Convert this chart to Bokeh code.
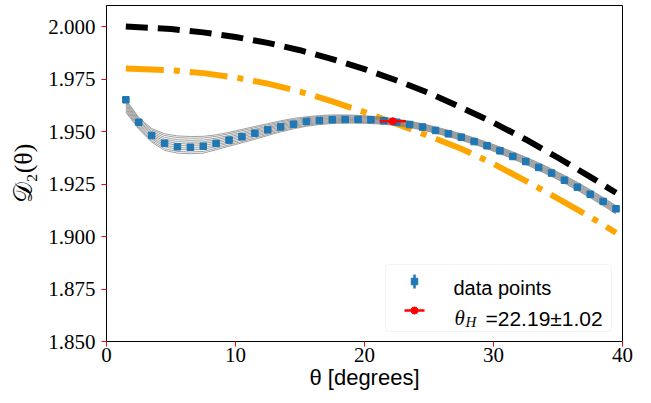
from bokeh.plotting import figure
from bokeh.models import Range1d, FixedTicker, NumeralTickFormatter, Label, BoxAnnotation
from bokeh.embed import file_html
from bokeh.resources import INLINE

# sampled angles (degrees) and measured D2 values
theta = [1.5, 2.5, 3.5, 4.5, 5.5, 6.5, 7.5, 8.5, 9.5, 10.5, 11.5, 12.5, 13.5,
         14.5, 15.5, 16.5, 17.5, 18.5, 19.5, 20.5, 21.5, 22.5, 23.5, 24.5, 25.5,
         26.5, 27.5, 28.5, 29.5, 30.5, 31.5, 32.5, 33.5, 34.5, 35.5, 36.5, 37.5,
         38.5, 39.5]
d2 = [1.9651, 1.9544, 1.9481, 1.9444, 1.9427, 1.9425, 1.9430, 1.9443, 1.9459,
      1.9475, 1.9492, 1.9508, 1.9522, 1.9535, 1.9548, 1.9552, 1.9556, 1.9557,
      1.9557, 1.9556, 1.9551, 1.9544, 1.9533, 1.9521, 1.9505, 1.9489, 1.9473,
      1.9452, 1.9432, 1.9408, 1.9381, 1.9357, 1.9329, 1.9302, 1.9268, 1.9235,
      1.9201, 1.9167, 1.9132]

# spread of the fitted curves (upper and lower edge of the bundle)
fit_upper = [1.9652, 1.9567, 1.9514, 1.9489, 1.9479, 1.9476, 1.9477, 1.9484,
             1.9496, 1.9510, 1.9524, 1.9537, 1.9551, 1.9562, 1.9570, 1.9576,
             1.9579, 1.9579, 1.9577, 1.9573, 1.9567, 1.9559, 1.9549, 1.9537,
             1.9522, 1.9506, 1.9489, 1.9470, 1.9449, 1.9427, 1.9403, 1.9378,
             1.9351, 1.9322, 1.9291, 1.9258, 1.9223, 1.9186, 1.9147]
fit_lower = [1.9592, 1.9511, 1.9450, 1.9410, 1.9397, 1.9394, 1.9397, 1.9413,
             1.9430, 1.9446, 1.9463, 1.9481, 1.9498, 1.9513, 1.9525, 1.9533,
             1.9538, 1.9540, 1.9540, 1.9538, 1.9534, 1.9528, 1.9519, 1.9507,
             1.9492, 1.9476, 1.9458, 1.9439, 1.9418, 1.9394, 1.9369, 1.9343,
             1.9315, 1.9286, 1.9254, 1.9220, 1.9184, 1.9147, 1.9107]
fit_members = [0.0, 0.1, 0.22, 0.33, 0.45, 0.56, 0.67, 0.78, 0.9, 1.0]

# reference model curves
model_theta = [1.5, 5, 7.5, 10, 12.5, 15, 17.5, 20, 22.5, 25, 27.5, 30, 32.5,
               35, 37.5, 39.5]
model_a = [2.0000, 1.9988, 1.9972, 1.9950, 1.9922, 1.9887, 1.9845, 1.9797,
           1.9743, 1.9683, 1.9614, 1.9542, 1.9462, 1.9375, 1.9284, 1.9208]
model_b = [1.9800, 1.9792, 1.9778, 1.9757, 1.9728, 1.9690, 1.9643, 1.9592,
           1.9536, 1.9478, 1.9418, 1.9346, 1.9265, 1.9180, 1.9093, 1.9018]

theta_h = 22.19
theta_h_err = 1.02
theta_h_d2 = 1.9549

x_ticks = [0, 10, 20, 30, 40]
y_ticks = [1.850, 1.875, 1.900, 1.925, 1.950, 1.975, 2.000]

X0, X1 = 0, 40
Y0, Y1 = 1.85, 2.01
LEFT, TOP, FW, FH = 106, 5, 516, 336


def fx(px):
    """canvas pixel column -> data x"""
    return X0 + (px - LEFT) * (X1 - X0) / FW


def fy(py):
    """canvas pixel row -> data y"""
    return Y1 - (py - TOP) * (Y1 - Y0) / FH


p = figure(width=651, height=403, output_backend="svg", toolbar_location=None,
           x_range=Range1d(X0, X1), y_range=Range1d(Y0, Y1),
           min_border_left=LEFT, min_border_right=651 - LEFT - FW,
           min_border_top=TOP, min_border_bottom=403 - TOP - FH)
p.background_fill_color = "white"
p.border_fill_color = "white"
p.outline_line_color = "black"
p.outline_line_width = 1
p.xgrid.visible = False
p.ygrid.visible = False

for ax in (p.xaxis, p.yaxis):
    ax.axis_line_color = "black"
    ax.major_tick_line_color = "red"
    ax.major_tick_out = 5
    ax.major_tick_in = 0
    ax.minor_tick_line_color = None
    ax.major_label_text_font = "Liberation Serif"
    ax.major_label_text_font_size = "21px"
    ax.major_label_text_color = "black"
    ax.axis_label_text_color = "black"
    ax.axis_label_text_font_style = "normal"

p.xaxis.ticker = FixedTicker(ticks=x_ticks)
p.yaxis.ticker = FixedTicker(ticks=y_ticks)
p.yaxis.formatter = NumeralTickFormatter(format="0.000")
p.xaxis.major_label_standoff = 1
p.yaxis.major_label_standoff = 6

p.xaxis.axis_label = "θ [degrees]"
p.xaxis.axis_label_text_font = "Liberation Sans"
p.xaxis.axis_label_text_font_size = "22px"
p.xaxis.axis_label_standoff = 0
p.yaxis.axis_label = "𝒟₂(θ)"
p.yaxis.axis_label_text_font = "Liberation Serif"
p.yaxis.axis_label_text_font_size = "26px"
p.yaxis.axis_label_standoff = 7

# model curves
p.line(model_theta, model_a, line_color="black", line_width=6, line_dash="22 10")
p.line(model_theta, model_b, line_color="orange", line_width=6,
       line_dash="38 10 6 10")

# bundle of fitted curves
for w in fit_members:
    ys = [lo + w * (hi - lo) for lo, hi in zip(fit_lower, fit_upper)]
    p.line(theta, ys, line_color="gray", line_width=1, line_alpha=0.75)

# data points
p.scatter(theta, d2, marker="square", size=6.5, fill_color="#1f77b4",
          line_color="#1f77b4")

# fitted theta_H with its uncertainty
p.segment(x0=[theta_h - theta_h_err], y0=[theta_h_d2],
          x1=[theta_h + theta_h_err], y1=[theta_h_d2],
          line_color="red", line_width=2.5)
p.scatter([theta_h], [theta_h_d2], marker="circle", size=7,
          fill_color="red", line_color="red")

# legend
box = BoxAnnotation(left=fx(385), right=fx(611), top=fy(264), bottom=fy(331),
                    fill_color="white", fill_alpha=0.8,
                    line_color="#d6d6d6", line_width=1, border_radius=4,
                    level="underlay")
p.add_layout(box)

icon_x = fx(414)
p.segment(x0=[icon_x], y0=[fy(274)], x1=[icon_x], y1=[fy(288)],
          line_color="#1f77b4", line_width=2.5)
p.scatter([icon_x], [fy(281)], marker="square", size=6.5,
          fill_color="#1f77b4", line_color="#1f77b4")
p.segment(x0=[fx(404)], y0=[fy(310)], x1=[fx(424)], y1=[fy(310)],
          line_color="red", line_width=2.5)
p.scatter([icon_x], [fy(310)], marker="circle", size=7,
          fill_color="red", line_color="red")

p.add_layout(Label(x=fx(453), y=fy(287), text="data points",
                   text_font="Liberation Sans", text_font_size="20px",
                   text_baseline="alphabetic", text_color="black"))
p.add_layout(Label(x=fx(454), y=fy(317), text="θ",
                   text_font="Liberation Serif", text_font_style="italic",
                   text_font_size="21px", text_baseline="alphabetic",
                   text_color="black"))
p.add_layout(Label(x=fx(465), y=fy(321), text="H",
                   text_font="Liberation Serif", text_font_style="italic",
                   text_font_size="15px", text_baseline="alphabetic",
                   text_color="black"))
p.add_layout(Label(x=fx(485), y=fy(318),
                   text="=%.2f±%.2f" % (theta_h, theta_h_err),
                   text_font="Liberation Sans", text_font_size="21px",
                   text_baseline="alphabetic", text_color="black"))

open("out.html", "w").write(file_html(p, INLINE))
